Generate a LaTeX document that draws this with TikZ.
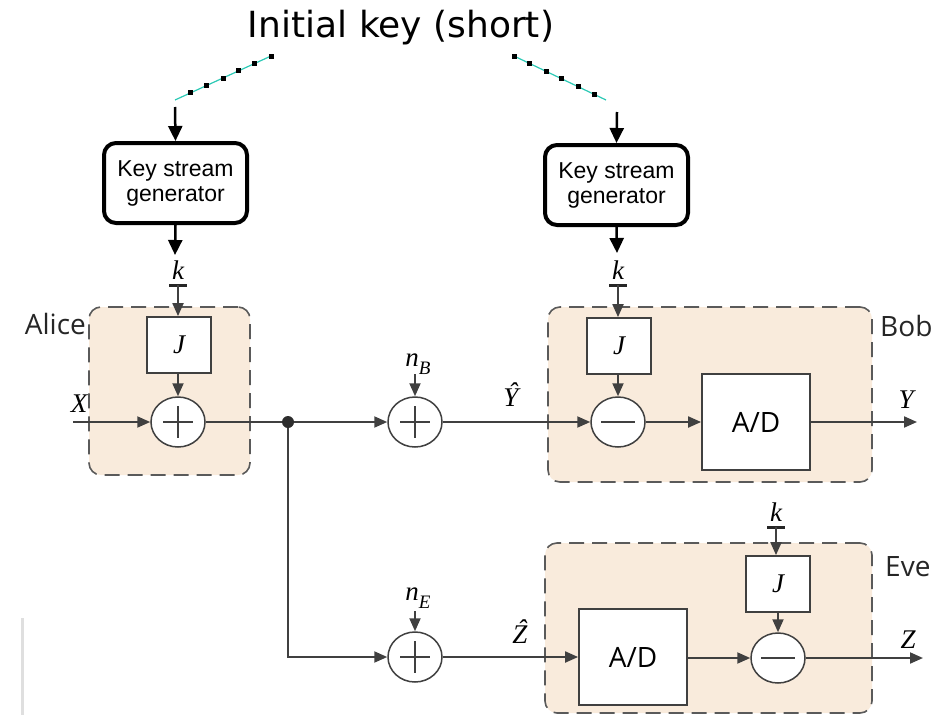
\RequirePackage{fix-cm}
\documentclass[tikz,border=0pt]{standalone}
\usepackage{fontspec}
\usetikzlibrary{arrows.meta,shapes.geometric,calc}
\newfontfamily\titlefont{DejaVu Sans}
\newfontfamily\arialfont{Liberation Sans}
\newfontfamily\labfont{Open Sans}
\newfontfamily\mlf{Liberation Serif}
\definecolor{ln}{HTML}{404040}
\definecolor{regfill}{HTML}{F9EBDC}
\definecolor{regline}{HTML}{5A5A5A}
\definecolor{keyteal}{HTML}{2CC9B5}
\newcommand\mfs{\mlf\itshape\fontsize{27}{30}\selectfont}
\newcommand\sbs[1]{\raisebox{-0.28em}{\fontsize{19}{20}\selectfont #1}}
\newcommand\hatl[1]{\ooalign{#1\cr\hidewidth\kern0.14em\raisebox{0.2em}{\char"02C6}\hidewidth\cr}}
\tikzset{
  region/.style={draw=regline, fill=regfill, dash pattern=on 15pt off 8pt, rounded corners=12pt, line width=1.6pt, inner sep=0pt},
  jbox/.style={draw=ln, fill=white, line width=1.8pt, minimum width=64pt, minimum height=56pt, inner sep=0pt, font=\mfs},
  adbox/.style={draw=ln, fill=white, line width=1.8pt, minimum width=108pt, minimum height=96pt, inner sep=0pt, font=\labfont\fontsize{28}{30}\selectfont},
  sumc/.style={ellipse, draw=ln, fill=white, line width=1.5pt, minimum width=54pt, minimum height=50pt, inner sep=0pt},
  ksg/.style={draw=black, line width=4pt, rounded corners=12pt, minimum width=143pt, minimum height=80pt, align=center, inner sep=0pt, font=\arialfont\fontsize{23}{25}\selectfont},
  conn/.style={draw=ln, line width=2pt},
  arr/.style={conn, -{Triangle[length=13pt,width=11pt]}},
  blk/.style={draw=black, line width=2.5pt, -{Triangle[length=15pt,width=14pt]}},
  mlab/.style={inner sep=0pt, font=\mfs},
  who/.style={inner sep=0pt, font=\labfont\fontsize{28}{30}\selectfont, text=black!85},
  kbar/.style={draw=black!85, line width=3pt},
  signl/.style={draw=ln, line width=2pt},
}
\begin{document}
\begin{tikzpicture}[x=1pt,y=-1pt]
\useasboundingbox (0,0) rectangle (947,715);
% faint margin line
\draw[gray!25, line width=3pt] (22,618) -- (22,715);
% title
\node[inner sep=0pt, font=\titlefont\fontsize{36}{40}\selectfont] (title) at (401,28) {Initial key (short)};
% key lines
\coordinate (la) at (175,100); \coordinate (lb) at (271,56);
\coordinate (ra) at (514,56); \coordinate (rb) at (606,100);
\draw[keyteal, line width=1.2pt] (la) -- (lb);
\draw[keyteal, line width=1.2pt] (ra) -- (rb);
\foreach \t in {0.16,0.33,0.5,0.66,0.83,1.0}
  \fill ($(la)!\t!(lb)$) ++(-2.5,-2.5) rectangle ++(5,5);
\foreach \t in {0,0.17,0.35,0.52,0.7,0.87}
  \fill ($(ra)!\t!(rb)$) ++(-2.5,-2.5) rectangle ++(5,5);
% key stream generators
\node[ksg] (ksgA) at (175.5,183) {Key stream\\generator};
\node[ksg] (ksgB) at (616.5,185) {Key stream\\generator};
\coordinate (ka0) at (175,107);
\coordinate (kb0) at (617,112);
\draw[blk] (ka0) -- (ksgA.north);
\draw[blk] (kb0) -- (ksgB.north);
\coordinate (ka1) at (175,255);
\coordinate (kb1) at (617,253);
\draw[blk] (ksgA.south) -- (ka1);
\draw[blk] (ksgB.south) -- (kb1);
% regions
\node[region, minimum width=161pt, minimum height=168pt] (alice) at (169.5,391) {};
\node[region, minimum width=324pt, minimum height=175pt] (bob) at (710,394.5) {};
\node[region, minimum width=327pt, minimum height=170pt] (eve) at (708.5,628) {};
\node[who, anchor=east] (alicel) at (86,324) {Alice};
\node[who, anchor=west] (bobl) at (880,326) {Bob};
\node[who, anchor=west] (evel) at (885,567) {Eve};
% Alice
\node[mlab] (kA) at (178,270) {k};
\coordinate (kbA) at (178,285);
\draw[kbar] ($(kbA)+(-9,0)$) -- ($(kbA)+(9,0)$);
\node[jbox] (JA) at (179,345) {J};
\node[sumc] (sA) at (178,422) {};
\draw[signl] ($(sA)+(-15,0)$) -- ($(sA)+(15,0)$) ($(sA)+(0,-16)$) -- ($(sA)+(0,16)$);
\draw[arr] (kbA) -- (kbA |- JA.north);
\draw[arr] (JA.south -| sA) -- (sA.north);
\node[mlab] (XA) at (79,404) {X};
\coordinate (xin) at (73,422);
\draw[arr] (xin) -- (sA.west);
\node[circle, fill=ln!70!black, minimum size=12pt, inner sep=0pt] (dot) at (288,422) {};
\draw[conn] (sA.east) -- (dot);
% n_B
\node[sumc] (sB) at (415,422) {};
\draw[signl] ($(sB)+(-15,0)$) -- ($(sB)+(15,0)$) ($(sB)+(0,-16)$) -- ($(sB)+(0,16)$);
\node[mlab] (nB) at (418,364) {n\sbs{B}};
\coordinate (nB0) at (415,374);
\draw[arr] (nB0) -- (sB.north);
\draw[arr] (dot) -- (sB.west);
\node[mlab] (Yh) at (511,398) {\hatl{Y}};
% Bob
\node[mlab] (kB) at (618,270) {k};
\coordinate (kbB) at (618,285);
\draw[kbar] ($(kbB)+(-9,0)$) -- ($(kbB)+(9,0)$);
\node[jbox] (JB) at (619,346) {J};
\node[sumc] (mB) at (618,422) {};
\draw[signl] ($(mB)+(-17,0)$) -- ($(mB)+(17,0)$);
\draw[arr] (kbB) -- (kbB |- JB.north);
\draw[arr] (JB.south -| mB) -- (mB.north);
\draw[arr] (sB.east) -- (mB.west);
\node[adbox] (adB) at (756,422) {A/D};
\draw[arr] (mB.east) -- (adB.west);
\coordinate (yout) at (917,422);
\draw[arr] (adB.east) -- (yout);
\node[mlab] (YB) at (906,400) {Y};
% n_E
\node[sumc] (sE) at (415,657) {};
\draw[signl] ($(sE)+(-15,0)$) -- ($(sE)+(15,0)$) ($(sE)+(0,-16)$) -- ($(sE)+(0,16)$);
\node[mlab] (nE) at (418,598) {n\sbs{E}};
\coordinate (nE0) at (415,611);
\draw[arr] (nE0) -- (sE.north);
\draw[arr] (dot) |- (sE.west);
\node[mlab] (Zh) at (520,635) {\hatl{Z}};
% Eve
\node[adbox] (adE) at (633,657) {A/D};
\draw[arr] (sE.east) -- (adE.west);
\node[mlab] (kE) at (776,512) {k};
\coordinate (kbE) at (776,527);
\draw[kbar] ($(kbE)+(-9,0)$) -- ($(kbE)+(9,0)$);
\node[jbox] (JE) at (778,584) {J};
\node[sumc] (mE) at (778,658) {};
\draw[signl] ($(mE)+(-17,0)$) -- ($(mE)+(17,0)$);
\draw[arr] (kbE) -- (kbE |- JE.north);
\draw[arr] (JE.south -| mE) -- (mE.north);
\draw[arr] (adE.east |- mE) -- (mE.west);
\coordinate (zout) at (923,658);
\draw[arr] (mE.east) -- (zout);
\node[mlab] (ZE) at (908,640) {Z};
\end{tikzpicture}
\end{document}
